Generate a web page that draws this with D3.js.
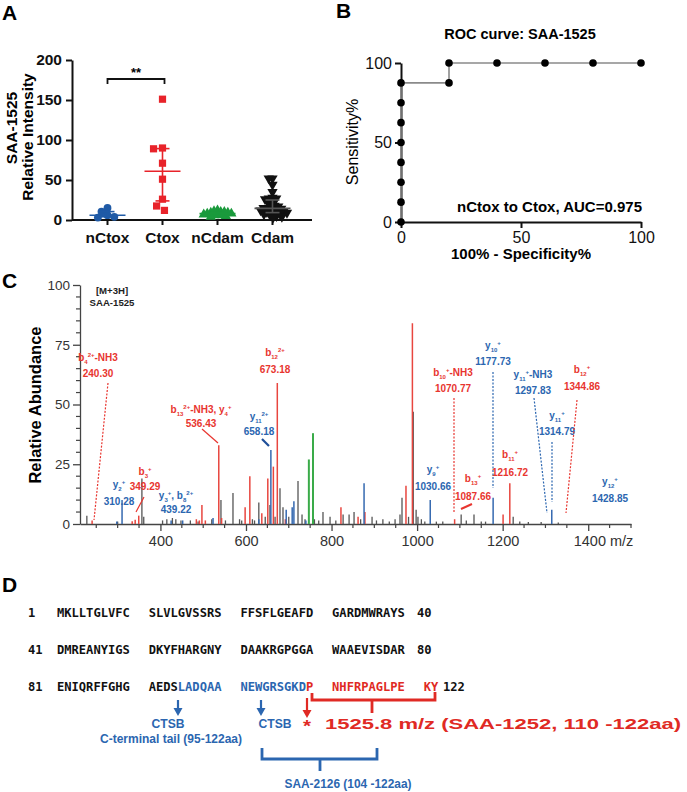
<!DOCTYPE html>
<html><head><meta charset="utf-8">
<script src="https://cdn.jsdelivr.net/npm/d3@7"></script>
<style>body{margin:0;background:#fff}svg{display:block}text{font-family:Arial,"Liberation Sans",sans-serif}</style>
</head><body><svg id="c" width="687" height="792"></svg>
<script>
// ---------- Panel A data ----------
const groupsA = ["nCtox", "Ctox", "nCdam", "Cdam"];
const nCtoxVals = [15, 10.5, 6, 3, 4];
const CtoxVals = [151, 89, 90, 71, 51, 26, 17.5, 12];
const nCdamVals = [12, 10, 9, 8, 8, 7, 7, 6, 5, 9, 11, 6, 4, 10];
const CdamVals = [52, 52, 44, 35, 28, 27, 27, 26, 22, 20, 18, 17, 16, 15, 15, 14, 13, 12, 12, 11, 10, 10, 9, 8, 8, 7, 6, 5, 4, 3];
const ticksA = [0, 50, 100, 150, 200];

// ---------- Panel B data ----------
const rocX = [0, 0, 0, 0, 0, 0, 0, 0, 20, 20, 40, 60, 80, 100];
const rocY = [0, 12.5, 25, 37.5, 50, 62.5, 75, 87.5, 87.5, 100, 100, 100, 100, 100];
const ticksB = [0, 50, 100];

// ---------- Panel C data (m/z, relative abundance) ----------
const grayMz  = [228,300,356.7,361,405,415,428,436,448,470,488,520,541.5,552,569.6,585,590,615,620,630,645,656,668,679.5,686.5,700,721.6,731,738,760,770,780,796.5,810,827,841,852.6,868,894.7,905,920,935,948.5,960,964.7,980,991,997.7,1002,1010,1018,1045,1060,1103,1115,1133,1150,1160,1224.6,1240,1260,1290,1330];
const grayInt = [3.5,1,19,3,1.5,2,2.5,2,1.5,1.5,1,2,10,1.5,13,2,1.5,2,1.5,9,3,8,3,15,7,3,18,4,2,2,1.5,5,3,1.5,4,4,5,2,3,1.5,2,1,2,4,11,3,47,6,3,2,1,1,1,4,1.5,4,1,1,3,1,0.8,0.8,0.6];
const redMz   = [240.3,334,341,349.3,484,491,497,505,536.4,543,598,609,637,651,664,673.2,692,822,862,878,974,989,1087.7,1201,1216.7];
const redInt  = [1.5,1.2,1.8,3.5,2,1.5,8,1.5,33,2.5,7,20,4.5,19,24,59,2,7,3,5,16,84,2,4,17];
const blueMz  = [298,310.3,425,452,523,630,658.2,694,708,712,740,876,1030.7,1177.7,1314.8];
const blueInt = [1,10,1.5,1.5,2.5,2,31,6,7,9.5,1.5,17,10,11,6];
const greenMz  = [747, 756.7];
const greenInt = [27, 38];
const ticksCy = [0, 25, 50, 75, 100];
const ticksCx = [400, 600, 800, 1000, 1200, 1400];

// ---------- Panel D data ----------
const seqRows = [
  {start: "1",  end: "40",  groups: [[["MKLLTGLVFC","k"]],[["SLVLGVSSRS","k"]],[["FFSFLGEAFD","k"]],[["GARDMWRAYS","k"]]]},
  {start: "41", end: "80",  groups: [[["DMREANYIGS","k"]],[["DKYFHARGNY","k"]],[["DAAKRGPGGA","k"]],[["WAAEVISDAR","k"]]]},
  {start: "81", end: "122", groups: [[["ENIQRFFGHG","k"]],[["AEDS","k"],["LADQAA","b"]],[["NEWGRSGKD","b"],["P","r"]],[["NHFRPAGLPE","r"]],[["KY","r"]]]}
];

const RED = "#e8352f", BLUE = "#2b66b0";
const svg = d3.select("#c");

function rich(sel, x, y, str, color, size, anchor) {
  const t = sel.append("text").attr("x", x).attr("y", y).attr("fill", color)
    .attr("font-size", size).attr("font-weight", "bold").attr("text-anchor", anchor || "middle");
  const re = /_\{([^}]*)\}|\^\{([^}]*)\}|([^_^]+)/g;
  let m, shift = 0;
  while ((m = re.exec(str))) {
    let target, txt, fs = size;
    if (m[1] !== undefined) { target = 2.5; txt = m[1]; fs = size * 0.6; }
    else if (m[2] !== undefined) { target = -4; txt = m[2]; fs = size * 0.6; }
    else { target = 0; txt = m[3]; }
    t.append("tspan").attr("dy", target - shift).attr("font-size", fs).text(txt);
    shift = target;
  }
  return t;
}
function panelLabel(t, x, y) {
  svg.append("text").attr("x", x).attr("y", y).attr("font-size", 21).attr("font-weight", "bold").text(t);
}

// ================= Panel A =================
panelLabel("A", 2, 20);
const gA = svg.append("g");
const yA = d3.scaleLinear().domain([0, 200]).range([220, 60]);
const xA = d3.scaleBand().domain(groupsA).range([80, 300]);
const ayA = gA.append("g").attr("transform", "translate(72,0)")
  .call(d3.axisLeft(yA).tickValues(ticksA).tickSize(6).tickPadding(4).tickSizeOuter(0));
ayA.selectAll("path,line").attr("stroke", "#111").attr("stroke-width", 2);
ayA.selectAll("text").attr("font-size", 15.5).attr("font-weight", "bold").attr("fill", "#111");
const axA = gA.append("g").attr("transform", "translate(0,220)")
  .call(d3.axisBottom(xA).tickSize(5).tickPadding(7).tickSizeOuter(0));
axA.select(".domain").remove();
axA.selectAll("line").attr("stroke", "#111").attr("stroke-width", 2);
axA.selectAll("text").attr("font-size", 15.5).attr("font-weight", "bold").attr("fill", "#111");
gA.append("line").attr("x1", 72).attr("x2", 312).attr("y1", 220).attr("y2", 220).attr("stroke", "#111").attr("stroke-width", 2);

gA.append("text").attr("transform", "translate(17,128) rotate(-90)").attr("text-anchor", "middle")
  .attr("font-size", 15.5).attr("font-weight", "bold").text("SAA-1525");
gA.append("text").attr("transform", "translate(33,137) rotate(-90)").attr("text-anchor", "middle")
  .attr("font-size", 15.5).attr("font-weight", "bold").text("Relative Intensity");

const groupData = [nCtoxVals, CtoxVals, nCdamVals, CdamVals];
const groupColors = ["#1f5aa6", "#e8232a", "#1a9a3c", "#111111"];
const groupSymbols = [d3.symbolCircle, d3.symbolSquare, d3.symbolTriangle, d3.symbolTriangle];
const groupRot = [0, 0, 0, 180];
const groupSizes = [48, 52, 46, 46];
const groupSpread = [7, 9, 3.6, 3.8];

function beeswarm(vals, d) {
  const placed = [];
  const order = vals.map((v, i) => i).sort((a, b) => vals[b] - vals[a]);
  const res = new Array(vals.length);
  order.forEach(i => {
    const y = yA(vals[i]);
    const intervals = [];
    placed.forEach(p => {
      const dy = Math.abs(p.y - y);
      if (dy < d) { const w = Math.sqrt(d * d - dy * dy); intervals.push([p.x - w, p.x + w]); }
    });
    const cands = [0];
    intervals.forEach(iv => { cands.push(iv[0], iv[1]); });
    cands.sort((a, b) => Math.abs(a) - Math.abs(b));
    let x = 0;
    for (const c of cands) {
      if (intervals.every(iv => c <= iv[0] + 1e-6 || c >= iv[1] - 1e-6)) { x = c; break; }
    }
    placed.push({x, y});
    res[i] = {x, y};
  });
  return res;
}

groupsA.forEach((g, gi) => {
  const vals = groupData[gi];
  const cx = xA(g) + xA.bandwidth() / 2;
  const col = groupColors[gi];
  const pos = beeswarm(vals, groupSpread[gi]);
  const sym = d3.symbol().type(groupSymbols[gi]).size(groupSizes[gi]);
  gA.append("g").selectAll("path").data(pos).join("path")
    .attr("d", sym)
    .attr("transform", p => `translate(${cx + p.x},${p.y}) rotate(${groupRot[gi]})`)
    .attr("fill", col);
  const sorted = vals.slice().sort(d3.ascending);
  const med = d3.quantile(sorted, 0.5), q1 = d3.quantile(sorted, 0.25), q3 = d3.quantile(sorted, 0.75);
  const eg = gA.append("g").attr("stroke", gi === 3 ? "#555" : col).attr("stroke-width", 1.6);
  eg.append("line").attr("x1", cx - 18).attr("x2", cx + 18).attr("y1", yA(med)).attr("y2", yA(med));
  eg.append("line").attr("x1", cx).attr("x2", cx).attr("y1", yA(q1)).attr("y2", yA(q3));
  eg.append("line").attr("x1", cx - 7).attr("x2", cx + 7).attr("y1", yA(q1)).attr("y2", yA(q1));
  eg.append("line").attr("x1", cx - 7).attr("x2", cx + 7).attr("y1", yA(q3)).attr("y2", yA(q3));
});
// significance bracket
{
  const x1 = xA("nCtox") + xA.bandwidth() / 2, x2 = xA("Ctox") + xA.bandwidth() / 2 + 2;
  gA.append("path").attr("d", `M${x1},84 V79 H${x2} V84`).attr("fill", "none").attr("stroke", "#111").attr("stroke-width", 1.8);
  gA.append("text").attr("x", (x1 + x2) / 2).attr("y", 77).attr("text-anchor", "middle").attr("font-size", 13).attr("font-weight", "bold").text("**");
}

// ================= Panel B =================
panelLabel("B", 336, 18);
const gB = svg.append("g");
const xB = d3.scaleLinear().domain([0, 100]).range([401, 641]);
const yB = d3.scaleLinear().domain([0, 100]).range([222, 63]);
const ayB = gB.append("g").attr("transform", "translate(401,0)")
  .call(d3.axisLeft(yB).tickValues(ticksB).tickSize(6).tickPadding(3).tickSizeOuter(0));
const axB = gB.append("g").attr("transform", "translate(0,222)")
  .call(d3.axisBottom(xB).tickValues(ticksB).tickSize(6).tickPadding(4).tickSizeOuter(0));
[ayB, axB].forEach(a => {
  a.selectAll("path,line").attr("stroke", "#111").attr("stroke-width", 2);
  a.selectAll("text").attr("font-size", 16).attr("fill", "#111");
});
gB.append("text").attr("x", 520).attr("y", 39).attr("text-anchor", "middle").attr("font-size", 14.5).attr("font-weight", "bold").text("ROC curve: SAA-1525");
gB.append("text").attr("transform", "translate(358,142) rotate(-90)").attr("text-anchor", "middle").attr("font-size", 16).text("Sensitivity%");
gB.append("text").attr("x", 521).attr("y", 259).attr("text-anchor", "middle").attr("font-size", 15).attr("font-weight", "bold").text("100% - Specificity%");
gB.append("text").attr("x", 642).attr("y", 212).attr("text-anchor", "end").attr("font-size", 15).attr("font-weight", "bold").text("nCtox to Ctox, AUC=0.975");
const rocPts = rocX.map((x, i) => [x, rocY[i]]);
gB.append("path").attr("d", d3.line().x(d => xB(d[0])).y(d => yB(d[1]))(rocPts))
  .attr("fill", "none").attr("stroke", "#8a8a8a").attr("stroke-width", 1.6);
gB.append("g").selectAll("circle").data(rocPts).join("circle")
  .attr("cx", d => xB(d[0])).attr("cy", d => yB(d[1])).attr("r", 3.8).attr("fill", "#000");

// ================= Panel C =================
panelLabel("C", 2, 288);
const gC = svg.append("g");
const xC = d3.scaleLinear().domain([212, 1500]).range([80, 631]);
const yC = d3.scaleLinear().domain([0, 100]).range([524, 285]);
const minorY = d3.range(0, 101, 5).filter(v => v % 25 !== 0);
const minorX = d3.range(250, 1501, 50).filter(v => v % 200 !== 0);
const axisCol = "#444";
gC.append("g").selectAll("line").data(minorY).join("line")
  .attr("x1", 76).attr("x2", 80).attr("y1", d => yC(d)).attr("y2", d => yC(d)).attr("stroke", axisCol).attr("stroke-width", 1.2);
gC.append("g").selectAll("line").data(minorX).join("line")
  .attr("x1", d => xC(d)).attr("x2", d => xC(d)).attr("y1", 524).attr("y2", 528).attr("stroke", axisCol).attr("stroke-width", 1.2);
const ayC = gC.append("g").attr("transform", "translate(80,0)")
  .call(d3.axisLeft(yC).tickValues(ticksCy).tickSize(7).tickPadding(3).tickSizeOuter(0));
const axC = gC.append("g").attr("transform", "translate(0,524)")
  .call(d3.axisBottom(xC).tickValues(ticksCx).tickSize(7).tickPadding(5).tickSizeOuter(0)
    .tickFormat(d => d === 1400 ? "1400 m/z" : d));
[ayC, axC].forEach(a => {
  a.selectAll("path,line").attr("stroke", axisCol).attr("stroke-width", 1.3);
  a.selectAll("text").attr("fill", "#333");
});
ayC.selectAll("text").attr("font-size", 13.5);
axC.selectAll("text").attr("font-size", 14.5);
axC.selectAll(".tick").filter(d => d === 1400).select("text").attr("text-anchor", "start").attr("dx", -15);
gC.append("text").attr("transform", "translate(41,405) rotate(-90)").attr("text-anchor", "middle")
  .attr("font-size", 16.5).attr("font-weight", "bold").text("Relative Abundance");
gC.append("text").attr("x", 112).attr("y", 294).attr("text-anchor", "middle").attr("font-size", 9.6).attr("font-weight", "bold").attr("fill", "#222").text("[M+3H]");
gC.append("text").attr("x", 112).attr("y", 306).attr("text-anchor", "middle").attr("font-size", 9.6).attr("font-weight", "bold").attr("fill", "#222").text("SAA-1525");

function peaks(mz, inten, color, w) {
  gC.append("g").selectAll("line").data(mz.map((m, i) => [m, inten[i]])).join("line")
    .attr("x1", d => xC(d[0])).attr("x2", d => xC(d[0]))
    .attr("y1", yC(0)).attr("y2", d => yC(d[1]))
    .attr("stroke", color).attr("stroke-width", w);
}
peaks(grayMz, grayInt, "#555", 1.3);
peaks(redMz, redInt, "#e8463f", 1.5);
peaks(blueMz, blueInt, "#3569b0", 1.5);
peaks(greenMz, greenInt, "#3aab49", 2);

// peak annotations (label text, centre x, baseline of line 1 and 2, colour)
const peakLabels = [
  ["b_{4}^{2+}-NH3", "240.30", 98, 361, 377, RED],
  ["y_{2}^{+}", "310.28", 119, 488, 505, BLUE],
  ["b_{3}^{+}", "349.29", 145, 475, 490, RED],
  ["y_{3}^{+}, b_{8}^{2+}", "439.22", 176, 499, 513, BLUE],
  ["b_{13}^{2+}-NH3, y_{4}^{+}", "536.43", 201, 413, 427, RED],
  ["y_{11}^{2+}", "658.18", 259, 420, 435, BLUE],
  ["b_{12}^{2+}", "673.18", 275, 356, 373, RED],
  ["b_{10}^{+}-NH3", "1070.77", 453, 376, 392, RED],
  ["y_{10}^{+}", "1177.73", 493, 349, 365, BLUE],
  ["y_{11}^{+}-NH3", "1297.83", 533, 378, 394, BLUE],
  ["y_{11}^{+}", "1314.79", 557, 419, 435, BLUE],
  ["b_{12}^{+}", "1344.86", 582, 373, 390, RED],
  ["b_{11}^{+}", "1216.72", 510, 458, 476, RED],
  ["y_{9}^{+}", "1030.66", 433, 473, 490, BLUE],
  ["b_{13}^{+}", "1087.66", 473, 482, 500, RED],
  ["y_{12}^{+}", "1428.85", 610, 485, 502, BLUE]
];
peakLabels.forEach(l => {
  rich(gC, l[2], l[3], l[0], l[5], 10);
  rich(gC, l[2], l[4], l[1], l[5], 10);
});
// leader lines: [x1,y1,x2,y2,colour,dashed,width]
const leaders = [
  [108, 383, 94, 520, RED, true, 1.2],
  [144, 497, 136, 512, RED, false, 1.2],
  [202, 429, 218, 443, RED, false, 1.2],
  [262, 439, 269, 446, "#1f4f99", false, 2.2],
  [454, 398, 454, 513, RED, true, 1.2],
  [493, 372, 493, 488, BLUE, true, 1.2],
  [534, 398, 547, 513, BLUE, true, 1.2],
  [552, 442, 552, 502, BLUE, true, 1.2],
  [577, 400, 566, 513, RED, true, 1.2],
  [461, 509, 472, 504, RED, false, 2]
];
leaders.forEach(l => {
  gC.append("line").attr("x1", l[0]).attr("y1", l[1]).attr("x2", l[2]).attr("y2", l[3])
    .attr("stroke", l[4]).attr("stroke-width", l[6]).attr("stroke-dasharray", l[5] ? "2,1.5" : null);
});

// ================= Panel D =================
panelLabel("D", 2, 592);
const gD = svg.append("g");
const seqColors = {k: "#111", b: BLUE, r: "#e02a24"};
const mono = "'DejaVu Sans Mono','Liberation Mono',monospace";
const groupX0 = 57, groupStep = 91.7, rowY0 = 617, rowStep = 37;
function monoText(x, y) {
  return gD.append("text").attr("x", x).attr("y", y).style("font-family", mono)
    .attr("font-weight", "bold").attr("font-size", 12.1).attr("fill", "#111");
}
seqRows.forEach((row, ri) => {
  const y = rowY0 + ri * rowStep;
  monoText(28, y).text(row.start);
  row.groups.forEach((grp, gi) => {
    const t = monoText(groupX0 + gi * groupStep, y);
    grp.forEach(seg => t.append("tspan").attr("fill", seqColors[seg[1]]).text(seg[0]));
  });
  monoText(row.groups.length === 5 ? 443 : 417, y).text(row.end);
});
function arrow(x, y1, y2, color) {
  gD.append("line").attr("x1", x).attr("x2", x).attr("y1", y1).attr("y2", y2 - 6).attr("stroke", color).attr("stroke-width", 2.2);
  gD.append("path").attr("d", `M${x - 4.5},${y2 - 8} L${x + 4.5},${y2 - 8} L${x},${y2} Z`).attr("fill", color);
}
arrow(178, 700, 716, BLUE);
arrow(261, 700, 716, BLUE);
arrow(307, 698, 718, "#e02a24");
gD.append("path").attr("d", "M312,693 V700 H435 V692 M372,700 V713").attr("fill", "none").attr("stroke", "#e02a24").attr("stroke-width", 2.8);
gD.append("path").attr("d", "M262,748 V759 H377 V748 M320,759 V771").attr("fill", "none").attr("stroke", BLUE).attr("stroke-width", 2.8);
function dtext(x, y, s, color, size, len, anchor) {
  gD.append("text").attr("x", x).attr("y", y).attr("text-anchor", anchor || "middle").attr("fill", color)
    .attr("font-size", size).attr("font-weight", "bold").attr("textLength", len).attr("lengthAdjust", "spacingAndGlyphs").text(s);
}
dtext(168, 728, "CTSB", BLUE, 12.5, 33);
dtext(171, 743, "C-terminal tail (95-122aa)", BLUE, 12.5, 142);
dtext(275, 728, "CTSB", BLUE, 12.5, 33);
dtext(307, 732, "*", "#e02a24", 16, 8);
dtext(325, 729, "1525.8 m/z (SAA-1252, 110 -122aa)", "#e02a24", 15.5, 356, "start");
dtext(348, 788, "SAA-2126 (104 -122aa)", BLUE, 12.5, 127);
</script></body></html>
